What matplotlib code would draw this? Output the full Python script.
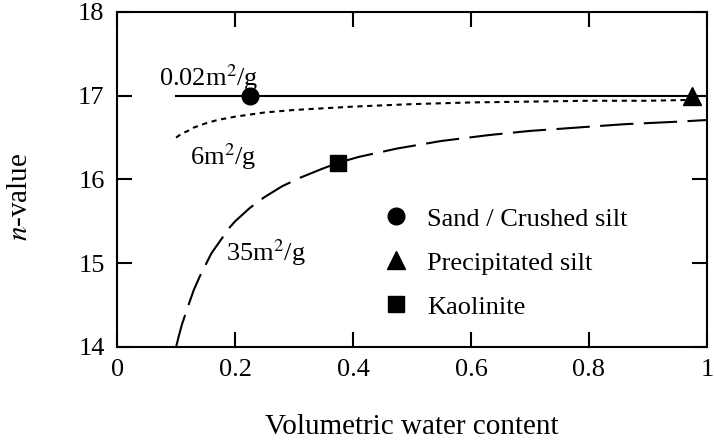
import matplotlib
matplotlib.use("Agg")
import matplotlib.pyplot as plt
from matplotlib.lines import Line2D

plt.rcParams['font.family'] = ['Liberation Serif', 'DejaVu Serif']
plt.rcParams['mathtext.fontset'] = 'stix'

# n-value curves for three specific surface areas
x_002 = [0.10, 1.0]
n_002 = [17.0, 17.0]

x_6 = [0.10, 0.11, 0.12, 0.13, 0.15, 0.17, 0.20, 0.25, 0.30, 0.40, 0.50, 0.60,
       0.70, 0.80, 0.90, 0.97]
n_6 = [16.50, 16.55, 16.58, 16.62, 16.67, 16.71, 16.75, 16.80, 16.83, 16.87,
       16.90, 16.92, 16.93, 16.94, 16.94, 16.95]

x_35 = [0.10, 0.105, 0.11, 0.12, 0.13, 0.14, 0.15, 0.16, 0.175, 0.19, 0.20,
        0.225, 0.25, 0.28, 0.31, 0.345, 0.375, 0.41, 0.475, 0.55, 0.63, 0.70,
        0.78, 0.86, 0.95, 1.0]
n_35 = [14.0, 14.14, 14.27, 14.48, 14.68, 14.84, 14.98, 15.12, 15.27, 15.42,
        15.50, 15.66, 15.79, 15.92, 16.02, 16.12, 16.20, 16.27, 16.37, 16.46,
        16.53, 16.58, 16.62, 16.66, 16.69, 16.71]

# measured soils
soil_names = ["Sand / Crushed silt", "Precipitated silt", "Kaolinite"]
soil_x = [0.225, 0.975, 0.375]
soil_n = [17.0, 17.0, 16.2]
soil_markers = ['o', '^', 's']
soil_sizes = [12, 13, 11]

xticks = [0, 0.2, 0.4, 0.6, 0.8, 1.0]
xtick_labels = ["0", "0.2", "0.4", "0.6", "0.8", "1"]
yticks = [14, 15, 16, 17, 18]

fig = plt.figure(figsize=(7.14, 4.44), dpi=100)
ax = fig.add_axes([0.164, 0.2185, 0.826, 0.7545])

ax.plot(x_002, n_002, color='black', lw=1.5)
ax.plot(x_6, n_6, color='black', lw=1.5, linestyle=(0, (2.5, 2.2)))
ax.plot(x_35, n_35, color='black', lw=1.5, linestyle=(0, (16, 5)))

for x, n, m, s in zip(soil_x, soil_n, soil_markers, soil_sizes):
    ax.plot(x, n, marker=m, color='black', markersize=s, linestyle='none', zorder=5)

ax.text(0.155, 17.22, "0.02m$^2$/g", fontsize=19, ha='center', va='center')
ax.text(0.18, 16.27, "6m$^2$/g", fontsize=19, ha='center', va='center')
ax.text(0.252, 15.13, "35m$^2$/g", fontsize=19, ha='center', va='center')

handles = [Line2D([], [], marker=m, color='black', markersize=s, linestyle='none')
           for m, s in zip(soil_markers, soil_sizes)]
ax.legend(handles, soil_names, loc='center left', bbox_to_anchor=(0.45, 0.251),
          frameon=False, fontsize=19, handletextpad=0.7, labelspacing=0.78,
          handlelength=1.0, borderaxespad=0, borderpad=0)

ax.set_xlim(0, 1)
ax.set_ylim(14, 18)
ax.set_xticks(xticks)
ax.set_xticklabels(xtick_labels)
ax.set_yticks(yticks)
ax.tick_params(direction='in', length=11, width=1.5, labelsize=19,
               top=True, right=True, pad=9)
for sp in ax.spines.values():
    sp.set_linewidth(1.5)

ax.set_xlabel("Volumetric water content", fontsize=21)
ax.set_ylabel("$n$-value", fontsize=21)
ax.xaxis.set_label_coords(0.5, -0.2)
ax.yaxis.set_label_coords(-0.142, 0.448)

fig.savefig("out.png", dpi=100)
